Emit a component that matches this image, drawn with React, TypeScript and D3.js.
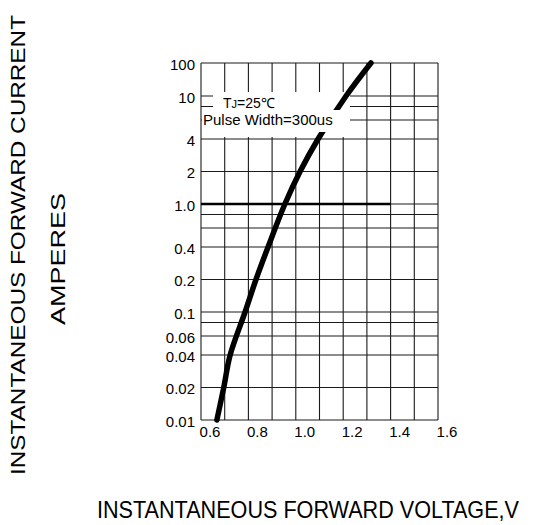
import React from "react";
import * as d3 from "d3";

// ---- data ----
const xTicks = [0.6, 0.8, 1.0, 1.2, 1.4, 1.6];
const xTickLabels = ["0.6", "0.8", "1.0", "1.2", "1.4", "1.6"];
const xGrid = [0.6, 0.7, 0.8, 0.9, 1.0, 1.1, 1.2, 1.3, 1.4, 1.5, 1.6];
const yTicks = [100, 10, 4, 2, 1, 0.4, 0.2, 0.1, 0.06, 0.04, 0.02, 0.01];
const yTickLabels = ["100", "10", "4", "2", "1.0", "0.4", "0.2", "0.1", "0.06", "0.04", "0.02", "0.01"];
const yGrid = [0.01, 0.02, 0.04, 0.06, 0.08, 0.1, 0.2, 0.4, 0.6, 0.8, 1, 2, 4, 6, 8, 10, 100];
const voltage = [0.667, 0.696, 0.723, 0.786, 0.832, 0.883, 0.954, 1.018, 1.094, 1.212, 1.317];
const current = [0.01, 0.02, 0.04, 0.1, 0.2, 0.4, 1.0, 2, 4, 10, 100];

const W = 535;
const H = 525;
const FONT = "'Liberation Sans', Arial, sans-serif";

export default function App() {
  const x = d3.scaleLinear().domain([0.6, 1.6]).range([201, 438]);
  // log axis, upper decade compressed as in the original datasheet
  const yLin = d3.scaleLinear().domain([-2, 1, 2]).range([420, 96, 63]);
  const y = (v: number) => yLin(Math.log10(v));
  const pts: [number, number][] = voltage.map((v, i) => [v, current[i]]);
  const line = d3
    .line<[number, number]>()
    .x((d) => x(d[0]))
    .y((d) => y(d[1]))
    .curve(d3.curveCatmullRom.alpha(0.5));

  const left = x(0.6);
  const right = x(1.6);
  const gridStroke = "#1a1a1a";

  return (
    <svg
      width={W}
      height={H}
      style={{ position: "absolute", left: 0, top: 0, background: "#fff" }}
      fontFamily={FONT}
    >
      <rect x={0} y={0} width={W} height={H} fill="#fff" />
      {/* vertical grid */}
      {xGrid.map((v) => (
        <line key={"vx" + v} x1={x(v)} x2={x(v)} y1={y(100)} y2={y(0.01)} stroke={gridStroke} strokeWidth={1.1} />
      ))}
      {/* horizontal grid */}
      {yGrid.map((v) =>
        v === 1 ? (
          <g key={"hy" + v}>
            <line x1={left} x2={x(1.4)} y1={y(v)} y2={y(v)} stroke="#000" strokeWidth={2.4} />
            <line x1={x(1.4)} x2={right} y1={y(v)} y2={y(v)} stroke={gridStroke} strokeWidth={1.1} />
          </g>
        ) : (
          <line key={"hy" + v} x1={left} x2={right} y1={y(v)} y2={y(v)} stroke={gridStroke} strokeWidth={1.1} />
        )
      )}
      {/* label background masks */}
      <rect x={213} y={92} width={137} height={45} fill="#fff" />
      <rect x={202} y={110} width={148} height={18} fill="#fff" />
      {/* curve */}
      <path d={line(pts) || ""} fill="none" stroke="#000" strokeWidth={5.5} strokeLinecap="round" />
      <rect x={202} y={110} width={139} height={22} fill="#fff" />
      <text x={223} y={108} fontSize={14} fill="#000">
        T<tspan fontSize={11}>J</tspan>=25℃
      </text>
      <text x={203} y={125} fontSize={15} fill="#000">
        Pulse Width=300us
      </text>
      {/* y tick labels */}
      {yTicks.map((v, i) => (
        <text key={"yt" + v} x={195} y={y(v)} dy="0.45em" textAnchor="end" fontSize={15} fill="#000">
          {yTickLabels[i]}
        </text>
      ))}
      {/* x tick labels */}
      {xTicks.map((v, i) => (
        <text key={"xt" + v} x={x(v) + 9} y={437} textAnchor="middle" fontSize={15} fill="#000">
          {xTickLabels[i]}
        </text>
      ))}
      {/* axis titles */}
      <text
        transform="translate(25,245) rotate(-90)"
        textAnchor="middle"
        fontSize={21}
        textLength={460}
        lengthAdjust="spacingAndGlyphs"
        fill="#000"
      >
        INSTANTANEOUS FORWARD CURRENT
      </text>
      <text
        transform="translate(65,259) rotate(-90)"
        textAnchor="middle"
        fontSize={21}
        textLength={132}
        lengthAdjust="spacingAndGlyphs"
        fill="#000"
      >
        AMPERES
      </text>
      <text transform="translate(97,518) scale(0.9,1)" fontSize={24} fill="#000">
        INSTANTANEOUS FORWARD VOLTAGE,V
      </text>
    </svg>
  );
}
